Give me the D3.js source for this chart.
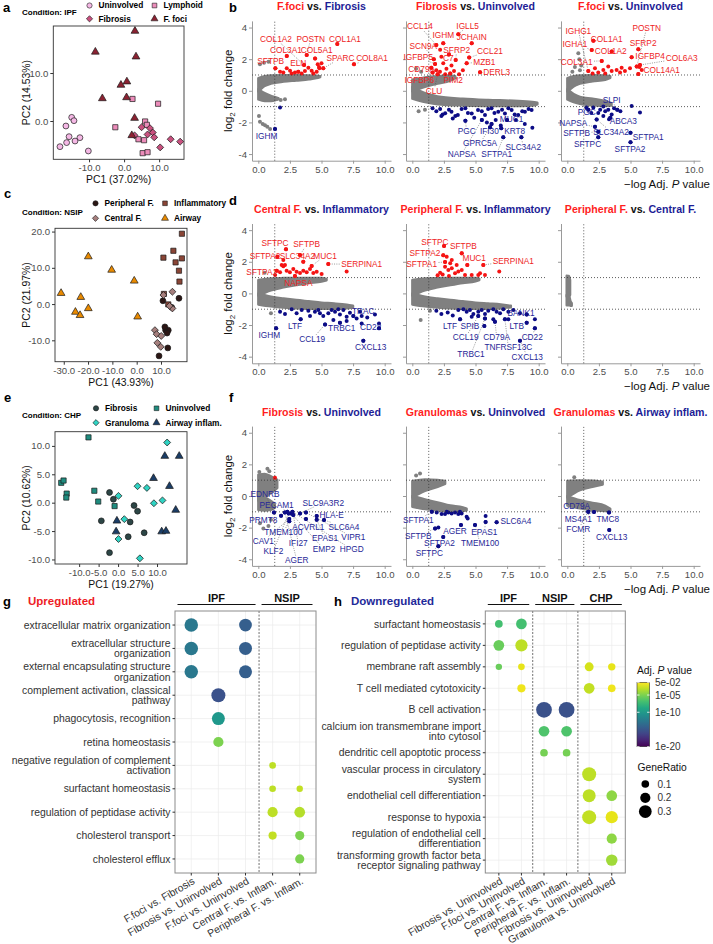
<!DOCTYPE html>
<html>
<head>
<meta charset="utf-8">
<script src="https://cdn.jsdelivr.net/npm/d3@7"></script>
<style>
  body { margin: 0; background: #fff; }
  svg text { font-family: "Liberation Sans", Arial, Helvetica, sans-serif; }
</style>
</head>
<body>
<svg id="fig" width="713" height="944"></svg>
<script>
// ---------- a / c / e : PCA scores ----------
const ipfUninvolved = [[-14.95,0.76],[-14.3,0.07],[-16.6,-1.04],[-15.7,-3.26],[-12.6,-3.47],[-18.3,-5.35],[-16.4,-4.5],[-14.0,-4.17],[-10.2,-6.25]];
const ipfLymphoid = [[2.4,4.6],[9.7,3.6],[-2.5,-1.3],[6.0,-0.1],[6.5,-0.8],[4.1,-3.8],[5.7,-4.0],[5.3,-6.7],[6.7,-6.5]];
const ipfFibrosis = [[5.0,-1.3],[7.4,-1.5],[6.7,-2.8],[8.2,-2.4],[8.6,-3.4],[3.0,-3.0],[10.3,-5.5],[13.3,-3.8],[16.0,-4.3]];
const ipfFoci = [[3.1,18.75],[-8.2,14.4],[3.4,13.4],[0.8,8.2],[-0.9,7.5],[-6.2,4.7],[0.7,4.9],[3.0,0.6],[2.2,-3.0]];

const nsipPeripheral = [[10.8,0.9],[11.9,-7.2],[13.0,-7.2],[11.6,-6.3],[12.8,-12.1],[9.2,-14.3],[17.4,1.6],[14.4,-0.9],[12.5,-8.0]];
const nsipInflammatory = [[15.1,14.7],[11.0,12.8],[16.0,11.5],[17.4,9.2],[17.6,6.2],[11.2,2.8],[13.0,-0.1],[18.6,19.4],[18.6,12.6]];
const nsipCentral = [[14.7,3.4],[14.7,-1.2],[7.5,-7.2],[8.2,-8.3],[8.5,-10.7],[9.9,-11.8],[10.1,-8.8],[11.0,2.5],[13.5,-0.5]];
const nsipAirway = [[-31.1,3.0],[-19.9,13.1],[-10.3,9.4],[-1.0,6.4],[-23.0,1.9],[-19.9,-1.2],[-25.2,-2.2],[-23.3,-3.1],[0.4,-3.5]];

const chpFibrosis = [[-2.2,1.8],[-1.2,0.6],[-4.3,-3.2],[4.1,-0.5],[5.0,-1.5],[3.1,-3.4],[6.7,-5.3],[2.6,-6.0],[-2.2,-8.8]];
const chpUninvolved = [[-7.6,11.5],[-14.6,3.5],[-14.0,3.9],[-13.2,1.6],[-13.3,0.9],[-6.1,2.1],[-5.1,0.2],[-0.9,-0.6]];
const chpGranuloma = [[12.6,10.6],[5.0,2.9],[7.4,2.6],[0.1,1.2],[9.2,-0.1],[11.4,0.4],[1.6,-2.9],[0.1,-6.4],[5.6,-9.8]];
const chpAirway = [[12.0,8.2],[9.1,4.3],[13.2,2.9],[-0.3,-3.2],[-0.5,-5.1],[11.2,-5.1],[12.3,-5.0],[14.8,-1.3],[15.7,8.2]];

const ipfXTicks = [-10, 0, 10], ipfYTicks = [0, 10];
const nsipXTicks = [-30, -20, -10, 0, 10], nsipYTicks = [-10, 0, 10, 20];
const chpXTicks = [-10, -5, 0, 5, 10], chpYTicks = [-10, -5, 0, 5, 10];

// ---------- b / d / f : volcano plots ----------
// grey cloud bands: [x, yLow, yHigh]
const b1Up = [[0,-0.05,0.8],[0.5,0.3,0.92],[1,0.45,0.97],[2,0.58,0.98],[3,0.65,0.98],[4,0.72,0.97],[4.6,0.8,0.95],[4.9,0.87,0.92]];
const b1Down = [[0,-0.55,0.1],[0.5,-0.65,-0.15],[1,-0.65,-0.32],[1.4,-0.58,-0.42],[1.6,-0.52,-0.47]];
const b1Grey = [[0.13,1.68],[0.45,1.78],[0.8,1.84],[1.45,-0.52],[1.77,-0.58],[2.11,-0.54],[0.13,-1.95],[0.35,-2.1],[0.53,-2.18],[0.71,-2.27],[0.93,-2.42],[0.05,-1.6]];
const b1Red = [[6.25,2.96],[7.57,1.68],[5.0,1.74],[4.8,1.5],[4.49,2.05],[3.83,2.27],[2.25,2.2],[1.35,1.42],[1.72,1.21],[1.98,1.15],[2.25,1.42],[2.51,1.27],[2.64,1.1],[2.9,1.15],[3.16,1.21],[3.43,1.1],[3.69,1.25],[3.96,1.46],[4.22,1.27],[4.35,1.1],[4.62,1.21],[4.83,1.42],[5.14,1.42],[4.7,1.68],[3.62,1.63]];
const b1Blue = [[1.72,-1.05],[1.32,-2.42]];
const b1Labels = [['COL1A2',1.4,3.28,3.62,1.63],['POSTN',4.15,3.28,3.83,2.27],['COL1A1',6.86,3.28,6.25,2.96],['COL3A1',2.19,2.58,2.25,2.2],['COL5A1',4.62,2.58,4.49,2.05],['SFTPB',0.98,1.89,1.35,1.42],['ELN',3.16,1.74,3.16,1.21],['SPARC',6.5,2.06,5.14,1.42],['COL8A1',9.0,2.06,7.57,1.68],['IGHM',0.66,-2.86,1.32,-2.42]];

const b2Up = [[0,-0.05,0.7],[1,0.25,0.85],[2,0.45,0.93],[3,0.65,0.97],[3.4,0.8,0.93]];
const b2Down = [[0,-0.5,0.25],[1,-0.72,-0.15],[2,-0.85,-0.35],[4,-0.93,-0.5],[6,-0.96,-0.58],[8,-0.97,-0.63],[9.5,-0.93,-0.7],[9.9,-0.85,-0.75]];
const b2Grey = [[0.3,1.4],[0.7,1.2],[0.5,-1.3],[1.0,-1.2]];
const b2Red = [[2.45,3.0],[3.64,3.57],[4.7,3.0],[3.43,1.95],[4.3,1.74],[5.36,1.17],[2.45,1.74],[2.19,1.21],[2.7,1.4],[1.6,1.15],[1.9,1.3],[3.0,1.1],[3.3,1.25],[3.7,1.05],[2.9,2.3],[2.2,2.6],[1.8,1.7],[4.0,1.3],[2.6,1.05],[1.5,1.45],[3.1,1.6],[2.0,1.05],[1.7,2.0],[2.3,2.15],[1.9,2.9],[4.5,2.1]];
const b2Blue = [[1.6,-1.1],[1.9,-1.3],[2.2,-1.15],[2.4,-1.5],[2.6,-1.42],[2.9,-1.2],[3.1,-1.32],[3.4,-1.6],[3.6,-1.53],[3.9,-1.15],[4.2,-1.11],[4.4,-1.4],[4.7,-1.43],[4.9,-1.7],[5.2,-1.21],[5.5,-1.3],[5.75,-1.53],[6.0,-1.15],[6.27,-1.11],[6.5,-1.4],[6.8,-1.32],[7.1,-1.2],[7.33,-1.43],[7.6,-1.1],[7.86,-1.21],[8.1,-1.5],[8.38,-1.53],[8.7,-1.3],[8.91,-1.32],[9.2,-1.15],[9.44,-1.21],[5.5,-1.85],[5.9,-2.0],[6.27,-2.1],[6.6,-1.85],[7.0,-2.2],[7.5,-1.85],[8.2,-1.85],[8.9,-2.1],[6.15,-2.31],[7.04,-2.37],[7.2,-2.94],[8.63,-2.94],[9.5,-2.33],[4.2,-1.9],[3.2,-1.75],[2.3,-1.6]];
const b2Labels = [['CCL14',0.61,4.06,1.9,2.9],['IGHM',2.45,3.53,2.45,3.0],['SCN9A',0.87,2.84,1.7,2.0],['IGFBP5',0.47,2.12,1.8,1.7],['C7',2.85,2.05,2.9,2.3],['CD79A',0.74,1.38,1.5,1.45],['IGFBP6',0.55,0.68,1.6,1.15],['CLU',1.72,0.0,2.0,1.05],['IGLL5',4.38,4.1,3.64,3.57],['JCHAIN',4.7,3.39,4.7,3.0],['SFRP2',3.51,2.58,3.43,1.95],['CCL21',6.15,2.54,4.5,2.1],['MZB1',5.7,1.84,4.3,1.74],['DERL3',6.68,1.17,5.36,1.17],['PIM2',3.24,0.68,3.0,1.1],
  ['MUC1',7.85,-1.78,7.5,-1.85],['PGC',4.3,-2.54,4.2,-1.9],['IFI30',6.1,-2.54,6.27,-2.1],['KRT8',8.1,-2.54,7.04,-2.37],['GPRC5A',5.36,-3.32,6.15,-2.31],['SLC34A2',8.78,-3.54,8.63,-2.94],['NAPSA',3.91,-4.0,5.5,-1.85],['SFTPA1',6.68,-4.0,7.2,-2.94]];

const b3Up = [[0,-0.05,0.8],[0.5,0.28,0.92],[1,0.45,0.97],[2,0.6,0.98],[3,0.7,0.97],[3.4,0.82,0.93]];
const b3Down = [[0,-0.55,0.1],[0.5,-0.72,-0.2],[1,-0.82,-0.38],[2,-0.92,-0.5],[3,-0.96,-0.65],[3.5,-0.93,-0.78]];
const b3Grey = [[0.87,2.37],[0.95,1.99],[0.6,1.5],[1.0,1.3],[0.4,1.2],[1.1,1.6]];
const b3Red = [[1.93,2.58],[2.72,1.89],[3.51,2.48],[2.06,3.17],[5.62,2.63],[5.09,2.12],[5.75,1.63],[5.62,1.06],[1.66,1.25],[2.19,1.42],[2.45,1.15],[2.85,1.32],[3.24,1.53],[3.51,1.25],[3.9,1.32],[4.17,1.15],[4.56,1.25],[4.96,1.42],[5.49,1.53],[5.89,1.32],[5.7,1.5],[3.0,1.1],[2.0,1.1],[4.3,1.45]];
const b3Blue = [[5.09,-0.96],[5.75,-1.38],[3.95,-1.2],[1.66,-1.2],[2.06,-1.05],[2.45,-1.4],[2.85,-1.0],[3.24,-1.2],[3.51,-1.5],[2.85,-1.6],[2.32,-1.81],[3.3,-1.8],[3.4,-1.7],[2.19,-2.27],[2.45,-2.59],[2.45,-2.94],[5.0,-2.66],[5.0,-3.25],[1.9,-1.4],[2.6,-1.2],[3.0,-1.3],[3.7,-1.1],[4.2,-1.3],[1.5,-1.05]];
const b3Labels = [['IGHG1',0.87,3.8,1.66,1.25],['COL1A1',3.12,3.28,2.06,3.17],['POSTN',6.28,3.96,5.49,1.53],['IGHA1',0.61,2.96,1.93,2.58],['SFRP2',6.0,3.04,5.62,2.63],['COL1A2',3.43,2.54,3.51,2.48],['IGFBP4',6.55,2.2,5.09,2.12],['COL6A3',9.05,2.06,5.75,1.63],['COL3A1',0.74,1.84,2.72,1.89],['COL14A1',7.47,1.32,5.62,1.06],
  ['SLPI',3.51,-0.58,3.95,-1.2],['PGC',1.53,-1.32,1.66,-1.2],['NAPSA',0.47,-2.02,2.19,-2.27],['ABCA3',4.43,-1.89,3.4,-1.7],['SFTPB',0.74,-2.69,2.45,-2.59],['SLC34A2',3.46,-2.59,2.32,-1.81],['SFTPA1',6.4,-2.9,5.0,-2.66],['SFTPC',1.6,-3.37,2.45,-2.94],['SFTPA2',4.96,-3.7,5.0,-3.25]];

const d1Up = [[0,-0.15,0.85],[1,0.2,0.95],[2,0.38,0.97],[3,0.52,0.98],[4,0.65,0.98],[5,0.75,0.97],[5.4,0.83,0.92]];
const d1Down = [[0,-0.7,0.0],[1,-0.82,-0.2],[2,-0.9,-0.32],[3,-0.95,-0.42],[4,-0.97,-0.5],[5,-0.98,-0.58],[6,-0.97,-0.64],[7,-0.94,-0.72],[7.5,-0.88,-0.78]];
const d1Grey = [[0.5,1.3],[1.0,-1.25]];
const d1Red = [[1.46,1.44],[1.72,1.33],[1.98,1.71],[2.24,1.44],[2.5,1.33],[2.77,1.54],[3.03,1.37],[3.3,1.29],[3.56,1.44],[3.83,1.33],[4.09,1.54],[4.35,1.29],[4.62,1.37],[1.51,2.32],[1.85,1.8],[1.98,2.11],[2.11,1.8],[3.3,2.43],[3.56,2.0],[4.22,1.73],[2.19,2.79],[5.54,1.86],[6.99,1.38],[5.01,1.22],[1.33,1.17],[2.9,1.1]];
const d1Blue = [[2.64,-1.01],[3.03,-1.26],[3.43,-1.05],[3.96,-1.1],[4.09,-1.43],[4.48,-1.16],[4.75,-1.05],[4.88,-1.26],[5.14,-1.43],[5.54,-1.26],[5.8,-1.05],[6.07,-1.16],[6.33,-1.01],[6.46,-1.33],[6.73,-1.05],[6.99,-1.47],[7.25,-1.22],[7.52,-1.43],[7.78,-1.58],[8.05,-1.16],[8.18,-1.43],[8.62,-1.52],[9.23,-1.33],[1.72,-1.16],[2.11,-1.31],[3.35,-1.64],[1.41,-2.21],[5.28,-1.96],[5.94,-1.68],[6.46,-1.85],[6.99,-1.75],[8.18,-1.9],[9.55,-1.9],[9.55,-2.21],[8.31,-3.0]];
const d1Labels = [['SFTPC',1.32,3.17,2.19,2.79],['SFTPB',3.83,3.1,3.3,2.43],['SFTPA2',0.53,2.39,1.51,2.32],['SLC34A2',3.1,2.39,3.56,2.0],['MUC1',5.28,2.39,4.22,1.73],['SERPINA1',8.18,1.84,5.54,1.86],['SFTPA1',0.27,1.33,1.46,1.44],['NAPSA',3.17,0.64,2.9,1.1],
  ['TRAC',8.3,-1.11,7.52,-1.43],['LTF',2.9,-2.04,3.35,-1.64],['TRBC1',6.6,-2.21,6.46,-1.85],['CD22',8.89,-2.14,9.55,-2.21],['IGHM',0.87,-2.63,1.41,-2.21],['CCL19',4.27,-2.9,5.28,-1.96],['CXCL13',8.89,-3.41,8.31,-3.0]];

const d2Up = [[0,-0.15,0.85],[1,0.2,0.95],[2,0.38,0.97],[3,0.52,0.98],[4,0.65,0.98],[5,0.76,0.97],[5.3,0.84,0.93]];
const d2Down = [[0,-0.7,0.0],[1,-0.82,-0.2],[2,-0.9,-0.32],[3,-0.95,-0.42],[4,-0.97,-0.5],[5,-0.98,-0.58],[6,-0.97,-0.64],[7,-0.94,-0.7],[7.8,-0.88,-0.78]];
const d2Grey = [[0.66,-1.68],[1.4,-1.1]];
const d2Red = [[3.91,2.54],[4.35,1.8],[5.62,1.8],[6.88,1.38],[2.59,1.69],[2.85,1.48],[3.12,1.59],[3.38,1.27],[3.64,1.38],[3.91,1.48],[4.17,1.17],[4.7,1.17],[5.22,1.17],[5.36,1.27],[5.75,1.17],[3.51,1.8],[3.12,2.11],[2.72,2.32],[2.51,2.99],[2.45,2.41],[2.59,1.99],[2.2,1.3],[2.4,1.2],[2.0,1.15],[2.9,1.1],[3.0,1.9]];
const d2Blue = [[3.64,-1.05],[4.04,-1.01],[4.3,-1.16],[4.56,-1.05],[4.83,-1.31],[5.22,-1.16],[5.49,-1.05],[5.75,-1.31],[6.01,-1.1],[6.41,-1.01],[6.67,-1.16],[6.94,-1.26],[7.2,-1.01],[7.6,-1.16],[8.0,-1.05],[8.52,-1.26],[9.05,-1.33],[3.78,-1.64],[4.7,-1.47],[5.22,-1.43],[5.75,-1.58],[6.41,-1.64],[6.54,-1.79],[7.33,-1.64],[7.6,-1.64],[9.05,-1.85],[9.7,-1.64],[5.7,-2.06],[8.52,-2.99],[9.7,-2.21],[1.9,-1.1],[2.3,-1.3],[2.8,-1.2],[3.2,-1.4]];
const d2Labels = [['SFTPC',1.79,3.27,2.51,2.99],['SFTPB',4.04,2.96,3.91,2.54],['SFTPA2',1.0,2.54,2.45,2.41],['MUC1',4.9,2.22,4.35,1.8],['SERPINA1',7.99,2.07,5.62,1.8],['SFTPA1',0.74,1.86,2.59,1.99],
  ['BANK1',8.6,-1.26,9.05,-1.33],['LTF',2.98,-2.06,3.78,-1.64],['SPIB',4.56,-2.06,5.7,-2.06],['LTB',8.26,-2.06,9.05,-1.85],['CCL19',4.22,-2.78,5.22,-1.43],['CD79A',6.68,-2.78,6.54,-1.79],['CD22',9.49,-2.74,9.7,-2.21],['TNFRSF13C',7.6,-3.41,7.33,-1.64],['TRBC1',4.64,-3.84,5.75,-1.58],['CXCL13',9.1,-4.0,8.52,-2.99]];

const d3Up = [[-0.05,-0.2,1.12],[0.12,-0.2,1.1],[0.22,-0.1,0.85]];
const d3Down = [[-0.05,-0.75,-0.1],[0.12,-0.75,-0.1],[0.25,-0.78,-0.5],[0.35,-0.78,-0.62]];

const f1Up = [[0,-0.3,1.35],[0.5,-0.1,1.4],[1,0.2,1.25],[1.5,0.5,1.02]];
const f1Down = [[0,-0.88,0.0],[0.5,-0.92,-0.1],[1,-0.88,-0.32],[1.3,-0.75,-0.52]];
const f1Grey = [[0.08,1.52],[0.72,1.73],[0.87,1.57],[0.4,-2.05],[0.8,-1.9],[0.13,-1.73],[1.0,-1.5]];
const f1Red = [[1.32,1.16]];
const f1Blue = [[1.24,-1.05],[1.8,-1.25],[2.3,-1.0],[2.4,-1.1],[2.6,-1.1],[2.7,-1.0],[2.77,-1.2],[2.45,-1.45],[2.45,-1.6],[3.3,-1.1],[3.77,-1.05],[3.77,-1.45],[4.62,-1.26],[4.62,-1.5],[5.2,-1.52],[2.1,-1.05]];
const f1Labels = [['EDNRB',0.53,0.13,1.24,-1.05],['PECAM1',1.45,-0.57,2.3,-1.0],['SLC9A3R2',5.14,-0.42,3.3,-1.1],['HLA-E',5.8,-1.2,4.62,-1.26],['PRMT8',0.4,-1.52,1.8,-1.25],['ACVRL1',3.96,-1.94,3.77,-1.45],['SLC6A4',6.78,-1.94,5.2,-1.52],['TMEM100',1.98,-2.3,2.45,-1.6],['CAV1',0.4,-2.83,2.45,-1.45],['IFI27',3.16,-3.0,2.77,-1.2],['EPAS1',5.28,-2.68,4.62,-1.5],['VIPR1',7.52,-2.61,3.77,-1.05],['KLF2',1.19,-3.46,2.4,-1.1],['EMP2',5.2,-3.37,2.6,-1.1],['HPGD',7.39,-3.37,2.7,-1.0],['AGER',3.04,-4.05,2.1,-1.05]];

const f2Up = [[0,-0.1,0.95],[1,0.32,1.05],[2,0.58,1.02],[2.6,0.77,0.95]];
const f2Down = [[0,-0.68,0.0],[1,-0.83,-0.22],[2,-0.92,-0.4],[3,-0.96,-0.6],[4,-0.94,-0.72],[4.3,-0.9,-0.8]];
const f2Grey = [[0.61,1.43],[0.3,1.3]];
const f2Red = [];
const f2Blue = [[2.59,-1.14],[2.85,-1.05],[3.11,-1.1],[3.38,-1.05],[3.64,-1.14],[3.77,-0.99],[3.9,-1.1],[4.3,-1.31],[4.38,-1.43],[4.96,-1.83],[5.8,-1.27],[5.8,-1.64],[6.67,-1.66],[3.85,-1.83],[1.54,-0.99],[1.93,-1.05],[2.32,-1.14],[2.72,-0.99],[1.8,-2.05],[2.06,-1.99],[2.45,-2.6],[2.06,-3.17]];
const f2Labels = [['SFTPA1',0.47,-1.52,1.54,-0.99],['SFTPB',0.47,-2.53,1.8,-2.05],['SFTPA2',2.15,-2.98,2.45,-2.6],['SFTPC',1.35,-3.63,2.06,-3.17],['AGER',3.38,-2.22,3.85,-1.83],['EPAS1',5.7,-2.26,5.8,-1.64],['TMEM100',5.36,-2.99,4.96,-1.83],['SLC6A4',8.2,-1.58,6.67,-1.66]];

const f3Up = [[0,-0.1,0.95],[1,0.37,0.98],[2,0.58,0.97],[2.8,0.72,0.9]];
const f3Down = [[0,-0.6,0.0],[1,-0.78,-0.27],[2,-0.88,-0.43],[3,-0.95,-0.62],[3.4,-0.93,-0.8]];
const f3Grey = [[0.55,1.18]];
const f3Red = [];
const f3Blue = [[1.66,-0.99],[2.11,-1.01],[3.3,-1.05],[3.32,-2.15]];
const f3Labels = [['CD79A',0.74,-0.63,1.66,-0.99],['MS4A1',0.87,-1.46,2.11,-1.01],['TMC8',3.2,-1.47,3.3,-1.05],['FCMR',0.87,-2.12,1.66,-0.99],['CXCL13',3.51,-2.58,3.32,-2.15]];

const volXDomain = [-0.5, 10.5], volYDomain = [-4.42, 4.42];
const volXTicks = [0, 2.5, 5, 7.5, 10], volYTicks = [-4, -2, 0, 2, 4];

// ---------- g / h : enrichment dot plots ----------
const upCols = ['F.foci vs. Fibrosis','Fibrosis vs. Uninvolved','F.foci vs. Uninvolved','Central F. vs. Inflam.','Peripheral F. vs. Inflam.'];
const upRows = ['extracellular matrix organization','extracellular structure organization','external encapsulating structure organization','complement activation, classical pathway','phagocytosis, recognition','retina homeostasis','negative regulation of complement activation','surfactant homeostasis','regulation of peptidase activity','cholesterol transport','cholesterol efflux'];
// [row, col, log10 adj. P, GeneRatio]
const upDots = [[0,0,-12.5,0.33],[0,2,-14.4,0.3],[1,0,-12.5,0.33],[1,2,-14.4,0.31],[2,0,-12.5,0.33],[2,2,-14.4,0.31],[3,1,-15.3,0.35],[4,1,-10.0,0.31],[5,1,-5.0,0.2],[6,3,-3.2,0.06],[7,3,-3.2,0.06],[7,4,-3.0,0.05],[8,3,-3.2,0.2],[8,4,-3.4,0.22],[9,3,-3.0,0.12],[9,4,-5.0,0.16],[10,4,-5.0,0.16]];
const upGroups = [['IPF',0,2],['NSIP',3,4]];

const downCols = ['Fibrosis vs. Uninvolved','F.foci vs. Uninvolved','Central F. vs. Inflam.','Peripheral F. vs. Inflam.','Fibrosis vs. Uninvolved','Granuloma vs. Uninvolved'];
const downRows = ['surfactant homeostasis','regulation of peptidase activity','membrane raft assembly','T cell mediated cytotoxicity','B cell activation','calcium ion transmembrane import into cytosol','dendritic cell apoptotic process','vascular process in circulatory system','endothelial cell differentiation','response to hypoxia','regulation of endothelial cell differentiation','transforming growth factor beta receptor signaling pathway'];
const downDots = [[0,0,-6.9,0.1],[0,1,-6.9,0.22],[1,0,-5.6,0.22],[1,1,-3.2,0.28],[2,0,-5.6,0.05],[2,1,-2.0,0.06],[2,4,-2.5,0.15],[2,5,-2.0,0.09],[3,1,-1.8,0.12],[3,4,-3.0,0.22],[3,5,-1.8,0.1],[4,2,-15.3,0.42],[4,3,-15.3,0.42],[5,2,-6.5,0.22],[5,3,-6.5,0.22],[6,2,-5.2,0.1],[6,3,-5.2,0.1],[7,4,-3.2,0.35],[8,4,-3.2,0.31],[8,5,-4.5,0.22],[9,4,-3.0,0.35],[9,5,-2.0,0.28],[10,5,-4.5,0.2],[11,5,-4.0,0.25]];
const downGroups = [['IPF',0,1],['NSIP',2,3],['CHP',4,5]];

const padjDomain = [-20, -1.30103];
const padjTicks = [[-1.30103,'5e-02'],[-5,'1e-05'],[-10,'1e-10'],[-20,'1e-20']];
const ratioTicks = [0.1, 0.2, 0.3];

// ---------------------------------------------------------------
const svg = d3.select('#fig');
const TICK_GREY = '#4d4d4d';
const PT_RED = '#f51414', PT_BLUE = '#0c0c86', PT_GREY = '#808080';
const LAB_RED = '#ee2424', LAB_BLUE = '#262696';
const TITLE_RED = '#ff1e1e', TITLE_BLUE = '#1d1d96';

function letter(t, x, y) {
  svg.append('text').attr('x', x).attr('y', y).attr('font-size', 13).attr('font-weight', 'bold').text(t);
}

function styleAxis(a, size) {
  a.selectAll('text').attr('font-size', size).attr('fill', TICK_GREY);
}

function shapePath(shape, size) {
  if (shape === 'circle') return d3.symbol(d3.symbolCircle, size)();
  if (shape === 'square' || shape === 'diamond') return d3.symbol(d3.symbolSquare, size)();
  return d3.symbol(d3.symbolTriangle, size)();
}
const shapeSize = { circle: 27, square: 27, diamond: 24, triangle: 26 };

function drawPCA(o) {
  const g = svg.append('g');
  const x = d3.scaleLinear().domain(o.xDom).range([o.left, o.right]);
  const y = d3.scaleLinear().domain(o.yDom).range([o.bottom, o.top]);
  const fmt = v => v.toFixed(1);
  const xa = g.append('g').attr('transform', `translate(0,${o.bottom})`)
    .call(d3.axisBottom(x).tickValues(o.xTicks).tickSize(3).tickSizeOuter(0).tickPadding(2).tickFormat(fmt));
  const ya = g.append('g').attr('transform', `translate(${o.left},0)`)
    .call(d3.axisLeft(y).tickValues(o.yTicks).tickSize(3).tickSizeOuter(0).tickPadding(2).tickFormat(fmt));
  [xa, ya].forEach(a => { a.select('.domain').remove(); a.selectAll('.tick line').attr('stroke', '#333'); styleAxis(a, 9.6); });
  g.append('rect').attr('x', o.left).attr('y', o.top).attr('width', o.right - o.left).attr('height', o.bottom - o.top)
    .attr('fill', 'none').attr('stroke', '#333').attr('stroke-width', 0.9);
  o.groups.forEach(gr => {
    g.append('g').selectAll('path').data(gr.pts).enter().append('path')
      .attr('d', shapePath(gr.shape, shapeSize[gr.shape]))
      .attr('transform', d => `translate(${x(d[0])},${y(d[1])})` + (gr.shape === 'diamond' ? ' rotate(45)' : ''))
      .attr('fill', gr.color).attr('stroke', '#1a1a1a').attr('stroke-width', 0.7);
  });
  g.append('text').attr('x', (o.left + o.right) / 2).attr('y', o.bottom + 24).attr('text-anchor', 'middle')
    .attr('font-size', 10.4).attr('fill', '#111').text(o.xLab);
  g.append('text').attr('transform', `translate(30,${(o.top + o.bottom) / 2}) rotate(-90)`).attr('text-anchor', 'middle')
    .attr('font-size', 10.4).attr('fill', '#111').text(o.yLab);
  // condition + legend
  g.append('text').attr('x', 22).attr('y', o.condY).attr('font-size', 8).attr('font-weight', 'bold').text(o.cond);
  o.groups.forEach((gr, i) => {
    const lx = o.legendX[i % 2], ly = o.legendY[Math.floor(i / 2)];
    g.append('path').attr('d', shapePath(gr.shape, shapeSize[gr.shape] * 0.8))
      .attr('transform', `translate(${lx},${ly})` + (gr.shape === 'diamond' ? ' rotate(45)' : ''))
      .attr('fill', gr.color).attr('stroke', '#1a1a1a').attr('stroke-width', 0.6);
    g.append('text').attr('x', lx + 9).attr('y', ly).attr('dy', '0.35em').attr('font-size', 8.3)
      .attr('font-weight', 'bold').text(gr.name);
  });
}

function drawVolcano(v) {
  const g = svg.append('g');
  const x = d3.scaleLinear().domain(volXDomain).range([v.left, v.left + 139]);
  const y = d3.scaleLinear().domain(volYDomain).range([v.zero + 69.9, v.zero - 69.9]);
  const t = g.append('text').attr('x', v.left + 69.5).attr('y', v.zero - 80.5).attr('text-anchor', 'middle')
    .attr('font-size', 10.6).attr('font-weight', 'bold');
  t.append('tspan').attr('fill', TITLE_RED).text(v.red);
  t.append('tspan').attr('fill', '#111').text(' vs. ');
  t.append('tspan').attr('fill', TITLE_BLUE).text(v.blue);

  const xa = g.append('g').attr('transform', `translate(0,${y(volYDomain[0])})`)
    .call(d3.axisBottom(x).tickValues(volXTicks).tickSize(3).tickSizeOuter(0).tickPadding(2).tickFormat(d3.format('.1f')));
  const ya = g.append('g').attr('transform', `translate(${v.left},0)`)
    .call(d3.axisLeft(y).tickValues(volYTicks).tickSize(3).tickSizeOuter(0).tickPadding(2)
      .tickFormat(v.yLabels ? (d => String(d)) : () => ''));
  [xa, ya].forEach(a => { a.select('.domain').attr('stroke', '#9a9a9a'); a.selectAll('.tick line').attr('stroke', '#9a9a9a'); styleAxis(a, 9.6); });

  const area = d3.area().x(d => x(d[0])).y0(d => y(d[1])).y1(d => y(d[2])).curve(d3.curveMonotoneX);
  [v.up, v.down].forEach(c => g.append('path').attr('d', area(c)).attr('fill', PT_GREY)
    .attr('stroke', PT_GREY).attr('stroke-width', 2.4).attr('stroke-linejoin', 'round'));
  const dots = (arr, col) => g.append('g').selectAll('circle').data(arr).enter().append('circle')
    .attr('cx', d => x(d[0])).attr('cy', d => y(d[1])).attr('r', 2).attr('fill', col);
  dots(v.grey || [], PT_GREY);
  dots(v.redPts || [], PT_RED);
  dots(v.bluePts || [], PT_BLUE);

  // threshold lines
  g.append('g').selectAll('line').data([-1, 1]).enter().append('line')
    .attr('x1', v.left).attr('x2', v.left + 139).attr('y1', d => y(d)).attr('y2', d => y(d))
    .attr('stroke', '#333').attr('stroke-width', 0.8).attr('stroke-dasharray', '1,2');
  g.append('line').attr('x1', x(1.3)).attr('x2', x(1.3)).attr('y1', y(volYDomain[0])).attr('y2', y(volYDomain[1]))
    .attr('stroke', '#333').attr('stroke-width', 0.8).attr('stroke-dasharray', '1,2');

  // repelled labels
  const segG = g.append('g'), labG = g.append('g');
  (v.labels || []).forEach(([name, lx, ly, px, py]) => {
    const cx = x(lx), cy = y(ly), tx = x(px), ty = y(py);
    const col = py > 0 ? PT_RED : PT_BLUE;
    g.append('circle').attr('cx', tx).attr('cy', ty).attr('r', 2).attr('fill', col);
    const txt = labG.append('text').attr('x', cx).attr('y', cy).attr('dy', '0.35em').attr('text-anchor', 'middle')
      .attr('font-size', 8.3).attr('fill', py > 0 ? LAB_RED : LAB_BLUE).text(name);
    const hw = txt.node().getComputedTextLength() / 2 + 1.5, hh = 4.5;
    const dx = tx - cx, dy = ty - cy, len = Math.hypot(dx, dy);
    const k = Math.min(dx ? hw / Math.abs(dx) : Infinity, dy ? hh / Math.abs(dy) : Infinity);
    if (k < 1 && len * (1 - k) > 4) {
      segG.append('line').attr('x1', cx + dx * k).attr('y1', cy + dy * k)
        .attr('x2', tx - dx / len * 2.6).attr('y2', ty - dy / len * 2.6)
        .attr('stroke', '#555').attr('stroke-width', 0.6).attr('stroke-dasharray', '1,1.3');
    }
  });

  if (v.yLabels) {
    const yl = g.append('text').attr('transform', `translate(232,${v.zero}) rotate(-90)`).attr('text-anchor', 'middle')
      .attr('font-size', 11.5).attr('fill', '#111');
    yl.append('tspan').text('log');
    yl.append('tspan').attr('font-size', 8).attr('dy', 3).text('2');
    yl.append('tspan').attr('dy', -3).text(' fold change');
  }
  if (v.xTitle) {
    const xl = g.append('text').attr('x', 710).attr('y', v.zero + 97).attr('text-anchor', 'end')
      .attr('font-size', 11.5).attr('fill', '#111');
    xl.append('tspan').text('\u2212log Adj. ');
    xl.append('tspan').attr('font-style', 'italic').text('P');
    xl.append('tspan').text(' value');
  }
}

// ---------- draw a / c / e ----------
letter('a', 3, 11.5); letter('c', 4, 198); letter('e', 4, 402);
drawPCA({ top: 26, bottom: 159.3, left: 53.3, right: 184, xDom: [-20.2, 17.1], yDom: [-7.98, 19.8],
  xTicks: ipfXTicks, yTicks: ipfYTicks, xLab: 'PC1 (37.02%)', yLab: 'PC2 (14.53%)',
  cond: 'Condition: IPF', condY: 15, legendX: [89.5, 154.5], legendY: [5.5, 18.8],
  groups: [
    { name: 'Uninvolved', shape: 'circle', color: '#f5b8e5', pts: ipfUninvolved },
    { name: 'Lymphoid', shape: 'square', color: '#ec8cba', pts: ipfLymphoid },
    { name: 'Fibrosis', shape: 'diamond', color: '#c9517f', pts: ipfFibrosis },
    { name: 'F. foci', shape: 'triangle', color: '#8b2232', pts: ipfFoci }] });
drawPCA({ top: 228.3, bottom: 361.7, left: 55, right: 187, xDom: [-33.6, 20.7], yDom: [-15.9, 20.9],
  xTicks: nsipXTicks, yTicks: nsipYTicks, xLab: 'PC1 (43.93%)', yLab: 'PC2 (21.97%)',
  cond: 'Condition: NSIP', condY: 215, legendX: [95.5, 165], legendY: [203.3, 218.3],
  groups: [
    { name: 'Peripheral F.', shape: 'circle', color: '#2b1614', pts: nsipPeripheral },
    { name: 'Inflammatory', shape: 'square', color: '#8a4536', pts: nsipInflammatory },
    { name: 'Central F.', shape: 'diamond', color: '#a67f7d', pts: nsipCentral },
    { name: 'Airway', shape: 'triangle', color: '#e98a00', pts: nsipAirway }] });
drawPCA({ top: 431.7, bottom: 564, left: 55, right: 187, xDom: [-16.2, 17.7], yDom: [-10.8, 12.5],
  xTicks: chpXTicks, yTicks: chpYTicks, xLab: 'PC1 (19.27%)', yLab: 'PC2 (10.62%)',
  cond: 'Condition: CHP', condY: 418, legendX: [96, 156.5], legendY: [408.3, 422.7],
  groups: [
    { name: 'Fibrosis', shape: 'circle', color: '#2c4646', pts: chpFibrosis },
    { name: 'Uninvolved', shape: 'square', color: '#1f8c7f', pts: chpUninvolved },
    { name: 'Granuloma', shape: 'diamond', color: '#2fd3c3', pts: chpGranuloma },
    { name: 'Airway inflam.', shape: 'triangle', color: '#1b3d66', pts: chpAirway }] });

// ---------- draw b / d / f ----------
letter('b', 229, 11.5); letter('d', 229, 205); letter('f', 229, 402);
const volLefts = [252, 406, 561];
const volZero = [90.8, 293.4, 496];
const volcanoes = [
  { row: 0, col: 0, red: 'F.foci', blue: 'Fibrosis', up: b1Up, down: b1Down, grey: b1Grey, redPts: b1Red, bluePts: b1Blue, labels: b1Labels },
  { row: 0, col: 1, red: 'Fibrosis', blue: 'Uninvolved', up: b2Up, down: b2Down, grey: b2Grey, redPts: b2Red, bluePts: b2Blue, labels: b2Labels },
  { row: 0, col: 2, red: 'F.foci', blue: 'Uninvolved', up: b3Up, down: b3Down, grey: b3Grey, redPts: b3Red, bluePts: b3Blue, labels: b3Labels },
  { row: 1, col: 0, red: 'Central F.', blue: 'Inflammatory', up: d1Up, down: d1Down, grey: d1Grey, redPts: d1Red, bluePts: d1Blue, labels: d1Labels },
  { row: 1, col: 1, red: 'Peripheral F.', blue: 'Inflammatory', up: d2Up, down: d2Down, grey: d2Grey, redPts: d2Red, bluePts: d2Blue, labels: d2Labels },
  { row: 1, col: 2, red: 'Peripheral F.', blue: 'Central F.', up: d3Up, down: d3Down },
  { row: 2, col: 0, red: 'Fibrosis', blue: 'Uninvolved', up: f1Up, down: f1Down, grey: f1Grey, redPts: f1Red, bluePts: f1Blue, labels: f1Labels },
  { row: 2, col: 1, red: 'Granulomas', blue: 'Uninvolved', up: f2Up, down: f2Down, grey: f2Grey, redPts: f2Red, bluePts: f2Blue, labels: f2Labels },
  { row: 2, col: 2, red: 'Granulomas', blue: 'Airway inflam.', up: f3Up, down: f3Down, grey: f3Grey, redPts: f3Red, bluePts: f3Blue, labels: f3Labels }
];
volcanoes.forEach(v => drawVolcano(Object.assign({}, v, {
  left: volLefts[v.col], zero: volZero[v.row], yLabels: v.col === 0, xTitle: v.col === 2 })));

// ---------- draw g / h ----------
const colorScale = d3.scaleSequential(d3.interpolateViridis).domain(padjDomain);
const radius = d3.scaleLinear().domain([0.05, 0.35]).range([3.2, 7]);

function wrap(s, w) {
  const lines = []; let cur = '';
  s.split(' ').forEach(wd => {
    if (!cur) cur = wd;
    else if ((cur + ' ' + wd).length <= w) cur += ' ' + wd;
    else { lines.push(cur); cur = wd; }
  });
  lines.push(cur);
  return lines;
}

function drawDots(o) {
  const g = svg.append('g');
  const x = d3.scalePoint().domain(d3.range(o.cols.length)).range([o.left, o.right]).padding(0.6);
  const y = d3.scalePoint().domain(d3.range(o.rows.length)).range([o.top, o.bottom]).padding(0.6);
  g.append('g').selectAll('line').data(o.rows.map((r, i) => i)).enter().append('line')
    .attr('x1', o.left).attr('x2', o.right).attr('y1', d => y(d)).attr('y2', d => y(d)).attr('stroke', '#ebebeb').attr('stroke-width', 0.7);
  g.append('g').selectAll('line').data(o.cols.map((c, i) => i)).enter().append('line')
    .attr('y1', o.top).attr('y2', o.bottom).attr('x1', d => x(d)).attr('x2', d => x(d)).attr('stroke', '#ebebeb').attr('stroke-width', 0.7);
  const cuts = o.groups.slice(1).map((gr, i) => (x(o.groups[i][2]) + x(gr[1])) / 2);
  cuts.forEach(cx => g.append('line').attr('x1', cx).attr('x2', cx).attr('y1', o.top).attr('y2', o.bottom)
    .attr('stroke', '#333').attr('stroke-width', 0.7).attr('stroke-dasharray', '2,1.5'));
  g.append('rect').attr('x', o.left).attr('y', o.top).attr('width', o.right - o.left).attr('height', o.bottom - o.top)
    .attr('fill', 'none').attr('stroke', '#8c8c8c').attr('stroke-width', 1);
  // group headers
  o.groups.forEach((gr, i) => {
    const a = (i === 0 ? o.left : cuts[i - 1]) + 2.5, b = (i === o.groups.length - 1 ? o.right : cuts[i]) - 3.5;
    g.append('line').attr('x1', a).attr('x2', b).attr('y1', o.top - 6.5).attr('y2', o.top - 6.5).attr('stroke', '#111').attr('stroke-width', 1);
    g.append('text').attr('x', (a + b) / 2).attr('y', o.top - 9.5).attr('text-anchor', 'middle')
      .attr('font-size', 11).attr('font-weight', 'bold').attr('fill', '#111').text(gr[0]);
  });
  // row labels
  o.rows.forEach((r, i) => {
    const lines = wrap(r, 33);
    const t = g.append('text').attr('text-anchor', 'end').attr('font-size', 10.4).attr('fill', '#333');
    lines.forEach((ln, j) => t.append('tspan').attr('x', o.left - 4.5).attr('y', y(i) + (j - (lines.length - 1) / 2) * 10.4)
      .attr('dy', '0.35em').text(ln));
    g.append('line').attr('x1', o.left - 2.5).attr('x2', o.left).attr('y1', y(i)).attr('y2', y(i)).attr('stroke', '#333');
  });
  // column labels
  o.cols.forEach((c, i) => {
    g.append('line').attr('x1', x(i)).attr('x2', x(i)).attr('y1', o.bottom).attr('y2', o.bottom + 2.5).attr('stroke', '#333');
    g.append('text').attr('transform', `translate(${x(i) + 2.5},${o.bottom + 7}) rotate(-30)`).attr('text-anchor', 'end')
      .attr('dy', '0.35em').attr('font-size', 10.4).attr('fill', '#333').text(c);
  });
  g.append('g').selectAll('circle').data(o.dots).enter().append('circle')
    .attr('cx', d => x(d[1])).attr('cy', d => y(d[0])).attr('r', d => radius(d[3])).attr('fill', d => colorScale(d[2]));
}

letter('g', 3, 606);
svg.append('text').attr('x', 28).attr('y', 605).attr('font-size', 11.5).attr('font-weight', 'bold').attr('fill', '#ee1c25').text('Upregulated');
letter('h', 334, 606);
svg.append('text').attr('x', 351).attr('y', 605).attr('font-size', 11.5).attr('font-weight', 'bold').attr('fill', '#1f2a99').text('Downregulated');

drawDots({ left: 175, right: 316, top: 611, bottom: 873, cols: upCols, rows: upRows, dots: upDots, groups: upGroups });
drawDots({ left: 485.3, right: 625.3, top: 611, bottom: 873, cols: downCols, rows: downRows, dots: downDots, groups: downGroups });

// legends
const lg = svg.append('g');
const lt = lg.append('text').attr('x', 637).attr('y', 674).attr('font-size', 10.3).attr('fill', '#111');
lt.append('tspan').text('Adj. ');
lt.append('tspan').attr('font-style', 'italic').text('P');
lt.append('tspan').text(' value');
const grad = svg.append('defs').append('linearGradient').attr('id', 'vir').attr('x1', 0).attr('y1', 1).attr('x2', 0).attr('y2', 0);
d3.range(0, 1.0001, 0.1).forEach(s => grad.append('stop').attr('offset', s).attr('stop-color', d3.interpolateViridis(s)));
const barY = d3.scaleLinear().domain(padjDomain).range([746.7, 682.3]);
lg.append('rect').attr('x', 637).attr('y', barY(padjDomain[1])).attr('width', 12.6).attr('height', barY(padjDomain[0]) - barY(padjDomain[1]))
  .attr('fill', 'url(#vir)').attr('stroke', '#333').attr('stroke-width', 0.6);
padjTicks.forEach(([v, s]) => {
  [[637, 639.5], [647.1, 649.6]].forEach(([a, b]) => lg.append('line').attr('x1', a).attr('x2', b).attr('y1', barY(v)).attr('y2', barY(v)).attr('stroke', '#fff').attr('stroke-width', 0.8));
  lg.append('text').attr('x', 655).attr('y', barY(v)).attr('dy', '0.35em').attr('font-size', 10).attr('fill', '#333').text(s);
});
lg.append('text').attr('x', 637.5).attr('y', 771).attr('font-size', 10.3).attr('fill', '#111').text('GeneRatio');
ratioTicks.forEach((r, i) => {
  const cy = 784 + i * 13.8;
  lg.append('circle').attr('cx', 645.3).attr('cy', cy).attr('r', radius(r)).attr('fill', '#000');
  lg.append('text').attr('x', 657.5).attr('y', cy).attr('dy', '0.35em').attr('font-size', 10).attr('fill', '#333').text(r.toFixed(1));
});
</script>
</body>
</html>
